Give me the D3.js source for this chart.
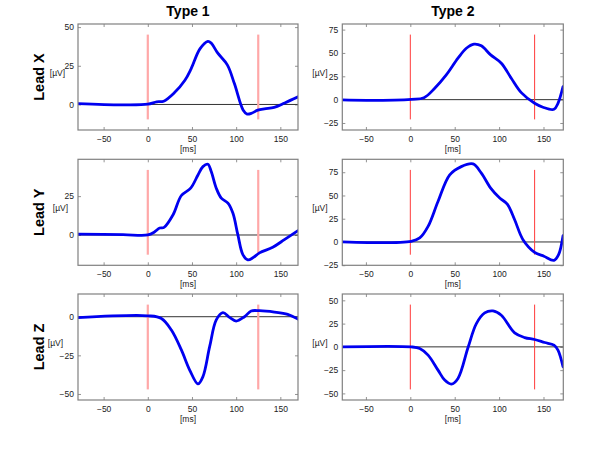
<!DOCTYPE html>
<html><head><meta charset="utf-8">
<script src="https://cdn.jsdelivr.net/npm/d3@7"></script>
<style>
body{margin:0;background:#fff;}
text{font-family:"Liberation Sans",Arial,sans-serif;}
</style></head>
<body><svg id="c" width="600" height="451"></svg>
<script>
// ---------- data ----------
const columnTitles = ["Type 1", "Type 2"];
const rowTitles = ["Lead X", "Lead Y", "Lead Z"];
const xTicks = [-50, 0, 50, 100, 150];
const markers1 = [0, 125];
const markers2 = [0, 140];

const t1X_ms = [-79,-30,0,10,18,30,42,49,59,68,72,79,90,98,108,112.5,117,124.5,132,143,155,170];
const t1X_uV = [0.6,-0.2,0.2,1.7,2.1,7.5,15.6,23,35.9,40.8,39.5,33.3,25.6,13.5,-3.7,-6.2,-5.8,-3.7,-2.8,-1.9,1,4.9];

const t1Y_ms = [-79,-28,0,7.5,13.5,18.4,28.6,38,48.5,56.8,62.4,68,71.8,77.5,83.2,90.7,96.3,101.9,107.6,113.2,118.9,126.4,141.4,154.6,170];
const t1Y_uV = [0.6,0.2,0,1.9,4.5,4.9,13,25.4,30.1,38.6,44,45.5,40.8,30.1,23.7,20.5,14.1,0.2,-12.6,-16,-14.7,-11.5,-7.9,-3,2.8];

const t1Z_ms = [-79,0,15.4,26.7,38,47.4,56.8,62.4,70,77.5,85,92.5,100,109.4,117,126.4,143.3,158.3,170];
const t1Z_uV = [-0.6,0.6,-1.1,-8.6,-21.5,-34.5,-43.5,-38.8,-19.4,-2.1,2.6,-0.4,-2.8,0,3.7,3.9,3,1.5,-1.5];

const t2X_ms = [-77,-47,1,15.4,27.5,40.5,53.7,63.1,71.7,80,90.5,102.5,113.7,125,140,149.4,161.8,166.3,172];
const t2X_uV = [-0.3,-0.7,0.4,2.1,12.2,26.5,44.4,55,59.4,57.6,47.9,39,22.9,7.5,-3.9,-8.1,-10.3,-3.9,14];

const t2Y_ms = [-77,-47,1,10.6,20,31.2,44.4,57.4,70.6,80,90.5,100.7,109.2,117.5,126.9,140,150.5,161.8,167,172];
const t2Y_uV = [0,-0.7,0.7,4.3,16.7,43.5,72.1,81,83.9,74,57.9,47.2,40.7,23.9,2.5,-11.1,-15.4,-19.7,-13.6,6.8];

const t2Z_ms = [-77,1,10.6,20,31.2,38.7,46.2,53.7,65,74.4,83.8,93.1,102.5,117.5,128.8,140,151.3,161.8,166.3,172];
const t2Z_uV = [0,0,-1.8,-8.9,-25,-35.7,-40,-33.9,-0.7,25,36.5,38.6,34,15,10,7.9,4.7,1.8,-3.5,-21.4];

const yTicks1 = [[0,25,50],[0,25],[-50,-25,0]];
const yTicks2 = [[-25,0,25,50,75],[-25,0,25,50,75],[-50,-25,0,25,50]];
const yDomains1 = [[-16.5,52],[-19.5,48.7],[-53.9,14.7]];
const yDomains2 = [[-32.5,81],[-25.1,88.9],[-57.1,56.8]];
const xDomain1 = [-79,170];
const xDomain2 = [-76.6,172.3];

// ---------- layout ----------
const svg = d3.select("#c");
const colLeft = [78, 342.3], colRight = [298, 563.3];
const rowTop = [24, 159.3, 294], boxH = 106;
const fs = 8.5;

const panels = [
  [{ms:t1X_ms,uV:t1X_uV},{ms:t1Y_ms,uV:t1Y_uV},{ms:t1Z_ms,uV:t1Z_uV}],
  [{ms:t2X_ms,uV:t2X_uV},{ms:t2Y_ms,uV:t2Y_uV},{ms:t2Z_ms,uV:t2Z_uV}]
];

columnTitles.forEach((t,c)=>{
  svg.append("text").attr("x",(colLeft[c]+colRight[c])/2).attr("y",15.7)
    .attr("text-anchor","middle").attr("font-size",14).attr("font-weight","bold").text(t);
});
rowTitles.forEach((t,r)=>{
  const cy = rowTop[r]+boxH/2;
  svg.append("text").attr("transform",`translate(43.5,${cy}) rotate(-90)`)
    .attr("text-anchor","middle").attr("font-size",14.5).attr("font-weight","bold").text(t);
});

const uvLabelX = [[57.5,60.5,55.5],[320,320,320]];
const uvLabelY = [72.5,207.5,342.5];

for (let c=0;c<2;c++){
  for (let r=0;r<3;r++){
    const x = d3.scaleLinear().domain(c?xDomain2:xDomain1).range([colLeft[c],colRight[c]]);
    const y = d3.scaleLinear().domain(c?yDomains2[r]:yDomains1[r]).range([rowTop[r]+boxH,rowTop[r]]);
    const g = svg.append("g");
    const clipId = `clip${c}${r}`;
    svg.append("clipPath").attr("id",clipId).append("rect")
      .attr("x",colLeft[c]).attr("y",rowTop[r]).attr("width",colRight[c]-colLeft[c]).attr("height",boxH);
    const yt = c?yTicks2[r]:yTicks1[r];
    const fmt = d=>d<0?"\u2212"+(-d):d;
    const axB = g.append("g").attr("transform",`translate(0,${rowTop[r]+boxH})`)
      .call(d3.axisBottom(x).tickValues(xTicks).tickSizeInner(-3).tickSizeOuter(0).tickPadding(5.5).tickFormat(fmt));
    const axT = g.append("g").attr("transform",`translate(0,${rowTop[r]})`)
      .call(d3.axisTop(x).tickValues(xTicks).tickSizeInner(-3).tickSizeOuter(0).tickFormat(""));
    const axL = g.append("g").attr("transform",`translate(${colLeft[c]},0)`)
      .call(d3.axisLeft(y).tickValues(yt).tickSizeInner(-3).tickSizeOuter(0).tickPadding(4).tickFormat(fmt));
    const axR = g.append("g").attr("transform",`translate(${colRight[c]},0)`)
      .call(d3.axisRight(y).tickValues(yt).tickSizeInner(-3).tickSizeOuter(0).tickFormat(""));
    [axB,axT,axL,axR].forEach(a=>{
      a.select(".domain").remove();
      a.selectAll("line").attr("stroke","#777").attr("stroke-width",0.8);
      a.selectAll("text").attr("font-size",fs).attr("fill","#222").attr("font-family","\"Liberation Sans\",Arial,sans-serif");
    });
    // zero line
    g.append("line").attr("x1",colLeft[c]).attr("x2",colRight[c]).attr("y1",y(0)).attr("y2",y(0))
      .attr("stroke","#333").attr("stroke-width",1);
    // markers
    const dom = y.domain(), span = dom[1]-dom[0];
    (c?markers2:markers1).forEach(m=>{
      g.append("line").attr("x1",x(m)).attr("x2",x(m))
        .attr("y1",y(dom[0]+0.1*span)).attr("y2",y(dom[1]-0.1*span))
        .attr("stroke",c?"#ff3a3a":"#ffa8a8").attr("stroke-width",c?1:2.2);
    });
    // curve
    const p = panels[c][r];
    const pts = p.ms.map((m,i)=>[m,p.uV[i]]);
    g.append("path").datum(pts).attr("clip-path",`url(#${clipId})`)
      .attr("d",d3.line().x(d=>x(d[0])).y(d=>y(d[1])).curve(d3.curveCatmullRom.alpha(0.5)))
      .attr("fill","none").attr("stroke","#0000f0").attr("stroke-width",2.8)
      .attr("stroke-linejoin","round").attr("stroke-linecap","round");
    // box
    g.append("rect").attr("x",colLeft[c]).attr("y",rowTop[r]).attr("width",colRight[c]-colLeft[c]).attr("height",boxH)
      .attr("fill","none").attr("stroke","#808080").attr("stroke-width",1.2);
    // labels
    g.append("text").attr("x",(colLeft[c]+colRight[c])/2).attr("y",rowTop[r]+boxH+21.5)
      .attr("text-anchor","middle").attr("font-size",fs).attr("fill","#222").text("[ms]");
    g.append("text").attr("x",uvLabelX[c][r]).attr("y",uvLabelY[r]+3)
      .attr("text-anchor","middle").attr("font-size",fs).attr("fill","#222").text("[\u00b5V]");
  }
}
</script></body></html>
